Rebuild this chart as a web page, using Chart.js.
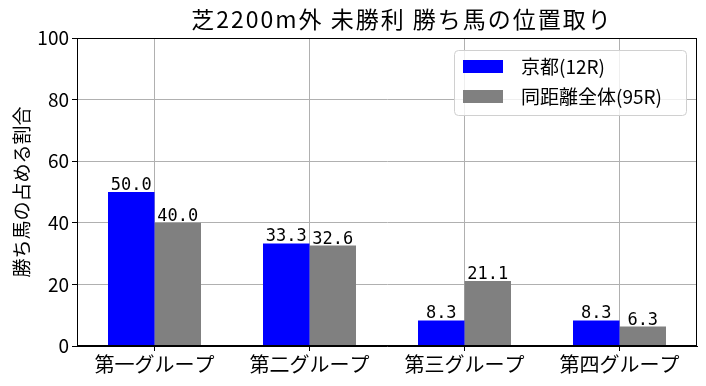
<!DOCTYPE html>
<html>
<head>
<meta charset="utf-8">
<script src="https://cdn.jsdelivr.net/npm/chart.js@4"></script>
<style>
  body { margin: 0; background: #fff; }
  #wrap { width: 706px; height: 386px; }
</style>
</head>
<body>
<div id="wrap"><canvas id="chart" width="706" height="386"></canvas></div>
<script>
// data
const categories = ["第一グループ", "第二グループ", "第三グループ", "第四グループ"];
const kyotoValues = [50.0, 33.3, 8.3, 8.3];
const allValues = [40.0, 32.6, 21.1, 6.3];
const seriesNames = ["京都(12R)", "同距離全体(95R)"];
const yTicks = [0, 20, 40, 60, 80, 100];
const chartTitle = "芝2200m外 未勝利 勝ち馬の位置取り";

const FONT = "'Noto Sans CJK JP', 'Noto Sans', sans-serif";

// value labels on top of bars
const barLabels = {
  id: "barLabels",
  afterDatasetsDraw(chart) {
    const ctx = chart.ctx;
    ctx.save();
    ctx.font = "17px 'DejaVu Sans Mono', monospace";
    ctx.fillStyle = "#000";
    ctx.textAlign = "center";
    ctx.textBaseline = "alphabetic";
    chart.data.datasets.forEach((ds, i) => {
      chart.getDatasetMeta(i).data.forEach((bar, j) => {
        ctx.fillText(ds.data[j].toFixed(1), bar.x, bar.y - 2);
      });
    });
    ctx.restore();
  }
};

// black frame all round the plot, like matplotlib spines
const frame = {
  id: "frame",
  afterDatasetsDraw(chart) {
    const a = chart.chartArea;
    const ctx = chart.ctx;
    ctx.save();
    ctx.strokeStyle = "#000";
    ctx.lineWidth = 1;
    ctx.strokeRect(Math.round(a.left) + 0.5, Math.round(a.top) + 0.5,
      Math.round(a.right - a.left) - 1, Math.round(a.bottom - a.top) - 1);
    ctx.restore();
  }
};

// title centred over the plot area, a bit wider spacing
const plotTitle = {
  id: "plotTitle",
  afterDraw(chart) {
    const a = chart.chartArea;
    const ctx = chart.ctx;
    ctx.save();
    ctx.font = "23px " + FONT;
    ctx.letterSpacing = "2px";
    ctx.fillStyle = "#000";
    ctx.textAlign = "center";
    ctx.textBaseline = "middle";
    ctx.fillText(chartTitle, (a.left + a.right) / 2 + 15, 19);
    ctx.restore();
  }
};

// matplotlib style legend box inside the plot
const boxLegend = {
  id: "boxLegend",
  afterDraw(chart) {
    const ctx = chart.ctx;
    const area = chart.chartArea;
    const w = 232, h = 65;
    const x = area.right - w - 11, y = area.top + 12;
    ctx.save();
    ctx.fillStyle = "rgba(255,255,255,0.8)";
    ctx.strokeStyle = "#d0d0d0";
    ctx.lineWidth = 1;
    ctx.beginPath();
    ctx.roundRect(x + 0.5, y + 0.5, w, h, 4);
    ctx.fill();
    ctx.stroke();
    ctx.font = "19px " + FONT;
    ctx.textBaseline = "middle";
    ctx.textAlign = "left";
    chart.data.datasets.forEach((ds, i) => {
      const cy = y + 17 + i * 30;
      ctx.fillStyle = ds.backgroundColor;
      ctx.fillRect(x + 9, cy - 7, 40, 13);
      ctx.fillStyle = "#000";
      ctx.fillText(ds.label, x + 67, cy);
    });
    ctx.restore();
  }
};

const whiteBg = {
  id: "whiteBg",
  beforeDraw(chart) {
    const ctx = chart.ctx;
    ctx.save();
    ctx.fillStyle = "#fff";
    ctx.fillRect(0, 0, chart.width, chart.height);
    ctx.restore();
  }
};

new Chart(document.getElementById("chart"), {
  type: "bar",
  data: {
    labels: categories,
    datasets: [
      { label: seriesNames[0], data: kyotoValues, backgroundColor: "#0000ff", categoryPercentage: 0.6, barPercentage: 1.0 },
      { label: seriesNames[1], data: allValues, backgroundColor: "#808080", categoryPercentage: 0.6, barPercentage: 1.0 }
    ]
  },
  options: {
    responsive: false,
    animation: false,
    layout: { padding: { left: 0, right: 9, top: 38, bottom: 0 } },
    plugins: {
      legend: { display: false },
      tooltip: { enabled: false },
      title: { display: false }
    },
    scales: {
      x: {
        grid: { offset: false, color: "#b0b0b0", tickColor: "#000", tickLength: 5 },
        border: { color: "#000" },
        ticks: { color: "#000", font: { family: FONT, size: 20 }, padding: 1, maxRotation: 0 },
        afterFit(scale) { scale.height = 40; }
      },
      y: {
        min: 0,
        max: 100,
        afterBuildTicks(scale) { scale.ticks = yTicks.map(v => ({ value: v })); },
        grid: { color: "#b0b0b0", tickColor: "#000", tickLength: 5 },
        border: { color: "#000" },
        ticks: { color: "#000", font: { family: FONT, size: 19 }, padding: 3 },
        title: {
          display: true,
          text: "勝ち馬の占める割合",
          color: "#000",
          font: { family: FONT, size: 19 },
          padding: { top: 10, bottom: 0 }
        },
        afterFit(scale) { scale.width = 77; }
      }
    }
  },
  plugins: [whiteBg, frame, barLabels, plotTitle, boxLegend]
});
</script>
</body>
</html>
